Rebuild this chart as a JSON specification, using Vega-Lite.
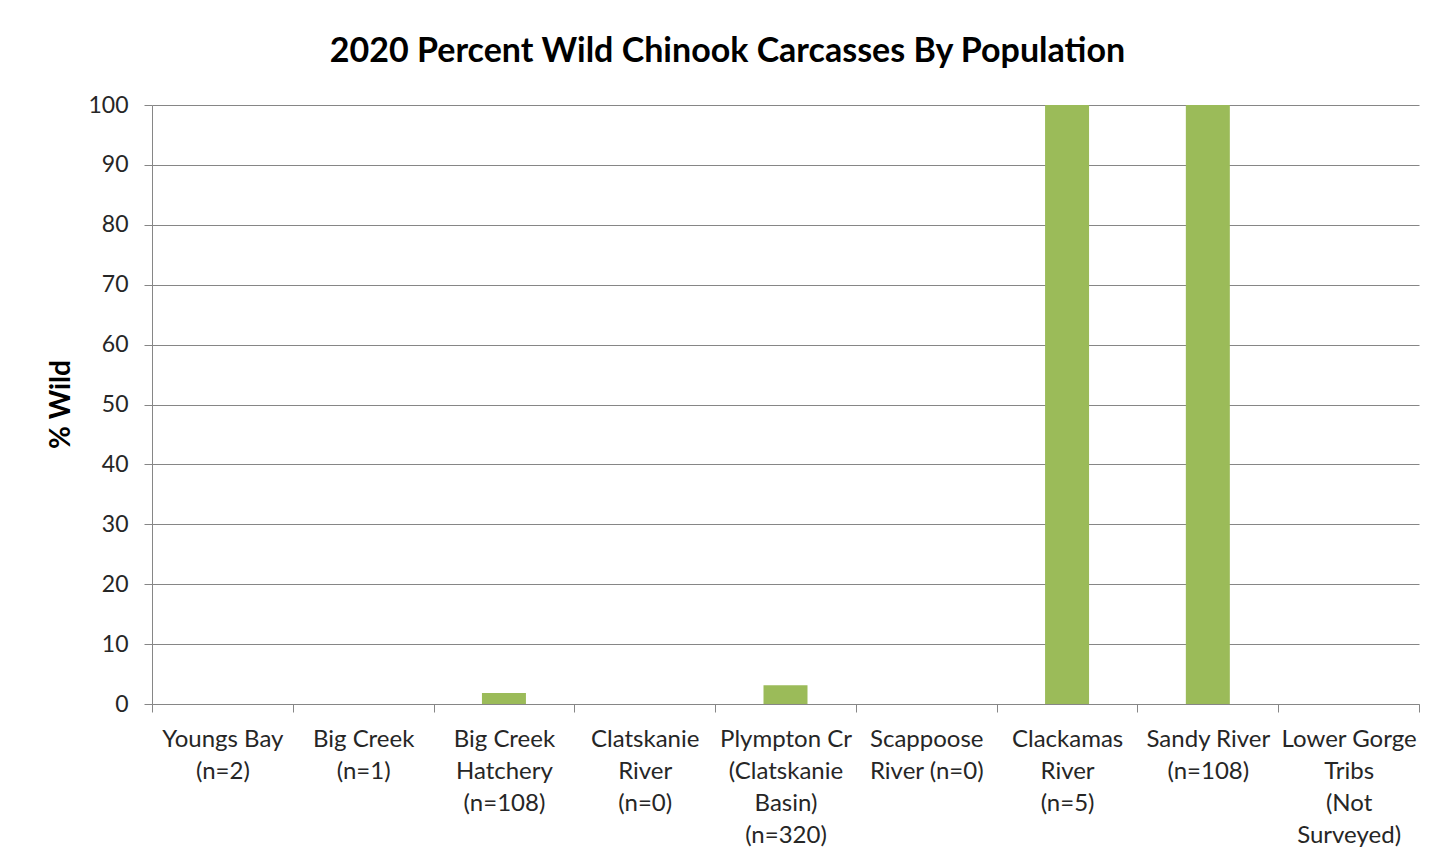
{
  "$schema": "https://vega.github.io/schema/vega-lite/v6.json",
  "width": 1267,
  "height": 599,
  "autosize": {"type": "none"},
  "padding": {"left": 152, "top": 105, "right": 34, "bottom": 163},
  "background": "white",
  "title": {
    "text": "2020 Percent Wild Chinook Carcasses By Population",
    "font": "Lato",
    "fontSize": 34,
    "fontWeight": "bold",
    "color": "#000000",
    "anchor": "middle",
    "offset": 25,
    "dx": -58
  },
  "data": {
    "values": [
      {"population": "Youngs Bay|(n=2)", "wild": 0},
      {"population": "Big Creek|(n=1)", "wild": 0},
      {"population": "Big Creek|Hatchery|(n=108)", "wild": 1.85},
      {"population": "Clatskanie|River|(n=0)", "wild": 0},
      {"population": "Plympton Cr|(Clatskanie|Basin)|(n=320)", "wild": 3.13},
      {"population": "Scappoose|River (n=0)", "wild": 0},
      {"population": "Clackamas|River|(n=5)", "wild": 100},
      {"population": "Sandy River|(n=108)", "wild": 100},
      {"population": "Lower Gorge|Tribs|(Not|Surveyed)", "wild": 0}
    ]
  },
  "mark": {"type": "bar", "color": "#9BBB59", "width": {"band": 0.3125}},
  "encoding": {
    "x": {
      "field": "population",
      "type": "nominal",
      "sort": null,
      "scale": {"paddingInner": 0, "paddingOuter": 0},
      "axis": {
        "title": null,
        "labelAngle": 0,
        "labelExpr": "split(datum.label, '|')",
        "labelFont": "Lato",
        "labelFontSize": 24,
        "labelColor": "#262626",
        "labelLineHeight": 32,
        "labelLimit": 300,
        "labelOverlap": false,
        "labelPadding": 15,
        "tickBand": "extent",
        "tickSize": 8,
        "tickColor": "#868686",
        "domainColor": "#868686",
        "grid": false
      }
    },
    "y": {
      "field": "wild",
      "type": "quantitative",
      "scale": {"domain": [0, 100], "nice": false},
      "axis": {
        "title": "% Wild",
        "titleFont": "Lato",
        "titleFontSize": 28,
        "titleFontWeight": "bold",
        "titleColor": "#000000",
        "titleX": -91,
        "titleY": 299,
        "titleAngle": -90,
        "titleAlign": "center",
        "titleBaseline": "middle",
        "values": [0, 10, 20, 30, 40, 50, 60, 70, 80, 90, 100],
        "labelFont": "Lato",
        "labelFontSize": 23,
        "labelColor": "#262626",
        "labelPadding": 16,
        "tickSize": 8,
        "tickColor": "#868686",
        "domainColor": "#868686",
        "grid": true,
        "gridColor": "#868686"
      }
    }
  },
  "config": {"view": {"stroke": null}}
}
